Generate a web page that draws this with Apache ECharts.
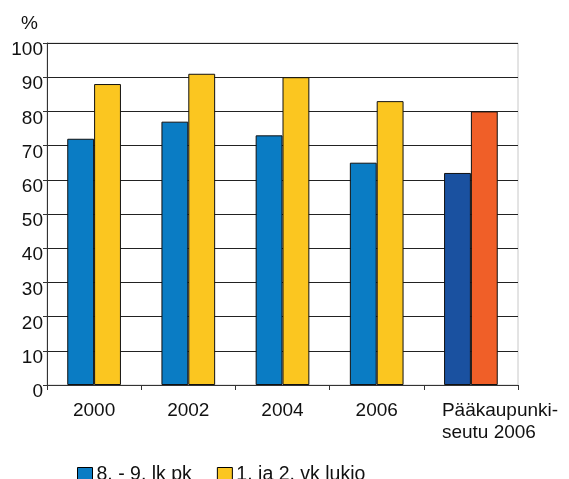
<!DOCTYPE html>
<html><head><meta charset="utf-8">
<script src="https://cdn.jsdelivr.net/npm/echarts@6/dist/echarts.min.js"></script>
<style>html,body{margin:0;padding:0;background:#fff}#c{width:569px;height:479px}</style>
</head><body><div id="c"></div>
<script>
var categories = ['2000', '2002', '2004', '2006', 'Pääkaupunki-\nseutu 2006'];
var seriesNames = ['8. - 9. lk pk', '1. ja 2. vk lukio'];
var peruskoulu = [72, 77, 73, 65, 62];
var lukio = [88, 91, 90, 83, 80];
var yTicks = [0, 10, 20, 30, 40, 50, 60, 70, 80, 90, 100];

var blue = '#0a7cc4', yellow = '#fbc620', darkBlue = '#1a51a0', orange = '#f05f28';
function mk(vals, last) {
  return vals.map(function (v, i) {
    return i === vals.length - 1 ? { value: v, itemStyle: { color: last } } : v;
  });
}
var catData = categories.map(function (c, i) {
  return i === categories.length - 1
    ? { value: c, textStyle: { align: 'left', padding: [0, 0, 0, -29] } }
    : c;
});
var chart = echarts.init(document.getElementById('c'));
chart.setOption({
  animation: false,
  textStyle: { fontFamily: 'Liberation Sans, Arial, sans-serif' },
  grid: { left: 47, right: 51, top: 43, bottom: 94, show: true, borderColor: '#c8c8c8', borderWidth: 1 },
  legend: {
    left: 72, top: 460, itemWidth: 15, itemHeight: 15, itemGap: 25, icon: 'rect',
    textStyle: { fontSize: 19.5, color: '#111', padding: [0, 0, 0, -1] },
    data: [
      { name: seriesNames[0], itemStyle: { color: blue, borderColor: '#000', borderWidth: 1 } },
      { name: seriesNames[1], itemStyle: { color: yellow, borderColor: '#000', borderWidth: 1 } }
    ]
  },
  xAxis: {
    type: 'category', data: catData,
    axisLine: { lineStyle: { color: '#333', width: 1 } },
    axisTick: { show: true, length: 5, lineStyle: { color: '#333' } },
    axisLabel: { interval: 0, fontSize: 19, color: '#111', margin: 15, lineHeight: 22 },
    z: 10
  },
  yAxis: {
    type: 'value', min: 0, max: 100, interval: 10,
    name: '%', nameLocation: 'end', nameGap: 10,
    nameTextStyle: { fontSize: 19, color: '#111', align: 'right', padding: [0, 9, 0, 0] },
    axisLine: { show: true, lineStyle: { color: '#333' } },
    axisTick: { show: true, length: 4, lineStyle: { color: '#333' } },
    axisLabel: { fontSize: 19, color: '#111', margin: 4,
      formatter: function (v) { return yTicks.indexOf(v) >= 0 ? '{a|' + v + '}' : ''; },
      rich: { a: { fontSize: 19, color: '#111', padding: [14, 0, 0, 0] } } },
    splitLine: { lineStyle: { color: '#222', width: 1 } }
  },
  series: [
    { name: seriesNames[0], type: 'bar', data: mk(peruskoulu, darkBlue),
      barGap: '0%', barCategoryGap: '43%',
      itemStyle: { color: blue, borderColor: '#111', borderWidth: 1 } },
    { name: seriesNames[1], type: 'bar', data: mk(lukio, orange),
      itemStyle: { color: yellow, borderColor: '#111', borderWidth: 1 } }
  ]
});
</script></body></html>
